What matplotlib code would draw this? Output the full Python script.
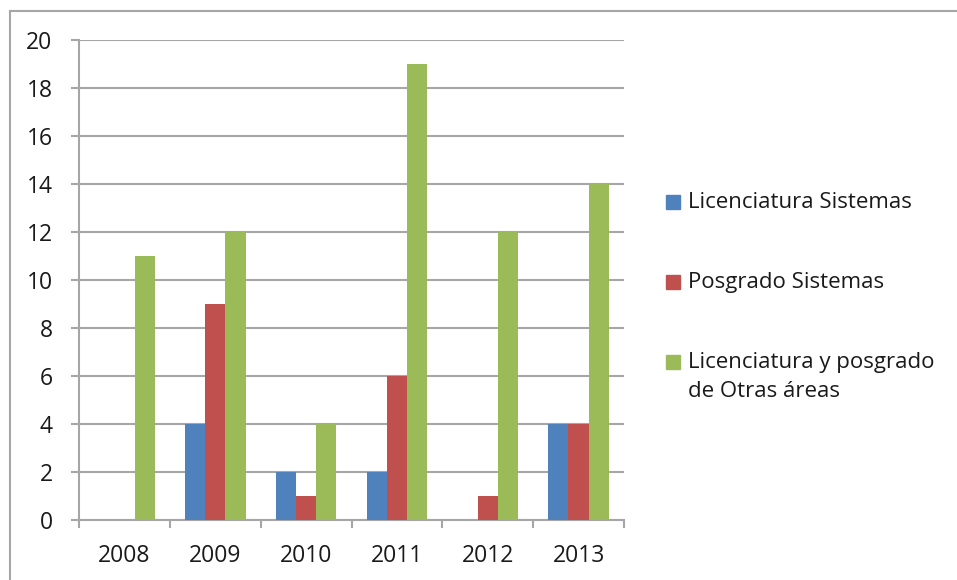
import matplotlib
matplotlib.use("Agg")
import matplotlib.pyplot as plt
from matplotlib.lines import Line2D
from matplotlib.patches import Rectangle
import numpy as np

years = ["2008", "2009", "2010", "2011", "2012", "2013"]
series_names = ["Licenciatura Sistemas", "Posgrado Sistemas",
                "Licenciatura y posgrado\nde Otras áreas"]
lic_sistemas = [0, 4, 2, 2, 0, 4]
posgrado_sistemas = [0, 9, 1, 6, 1, 4]
otras_areas = [11, 12, 4, 19, 12, 14]
colors = ["#4F81BD", "#C0504D", "#9BBB59"]
yticks = [0, 2, 4, 6, 8, 10, 12, 14, 16, 18, 20]

plt.rcParams['font.family'] = ['Open Sans', 'DejaVu Sans']
W, H = 957, 580
fig = plt.figure(figsize=(W / 100, H / 100), dpi=100)
ax = fig.add_axes([79 / W, 1 - 520 / H, (624 - 79) / W, (520 - 40) / H])

grid_c = "#A6A6A6"
x = np.arange(len(years))
bw = 1 / 4.5
data = [lic_sistemas, posgrado_sistemas, otras_areas]
for i, (vals, c) in enumerate(zip(data, colors)):
    ax.bar(x + (i - 1) * bw, vals, width=bw, color=c, zorder=3)

ax.set_xlim(-0.5, len(years) - 0.5)
ax.set_ylim(0, 20)
ax.set_yticks(yticks)
ax.set_yticklabels([str(t) for t in yticks])
ax.yaxis.grid(True, color=grid_c, linewidth=1.5, zorder=0)
ax.set_axisbelow(True)

ax.set_xticks(np.arange(len(years) + 1) - 0.5)
ax.set_xticklabels([])
ax.set_xticks(x, minor=True)
ax.set_xticklabels(years, minor=True)
ax.tick_params(axis='x', which='major', length=6, width=1.5, color=grid_c, direction='out')
ax.tick_params(axis='x', which='minor', length=0, pad=17, labelsize=16.5, labelcolor="#1a1a1a")
ax.tick_params(axis='y', length=6, width=1.5, color=grid_c, direction='out', pad=13,
               labelsize=16.5, labelcolor="#1a1a1a")

for s in ["top", "right"]:
    ax.spines[s].set_visible(False)
for s in ["left", "bottom"]:
    ax.spines[s].set_color(grid_c)
    ax.spines[s].set_linewidth(1.5)

# Legend (manual, Excel-like)
leg_y = [202, 282, 362]
for name, c, yy in zip(series_names, colors, leg_y):
    fig.patches.append(Rectangle((666 / W, 1 - (yy + 7) / H), 14 / W, 14 / H,
                                 transform=fig.transFigure, color=c, figure=fig))
    fig.text(688 / W, 1 - (yy - 10) / H, name, ha='left', va='top', fontsize=16,
             color="#1a1a1a", linespacing=1.5)

# Outer border (top and left visible)
fig.add_artist(Line2D([10 / W, 1], [1 - 11 / H, 1 - 11 / H], color=grid_c, lw=1.5,
                      transform=fig.transFigure))
fig.add_artist(Line2D([10 / W, 10 / W], [0, 1 - 11 / H], color=grid_c, lw=1.5,
                      transform=fig.transFigure))

fig.savefig("out.png", dpi=100)
